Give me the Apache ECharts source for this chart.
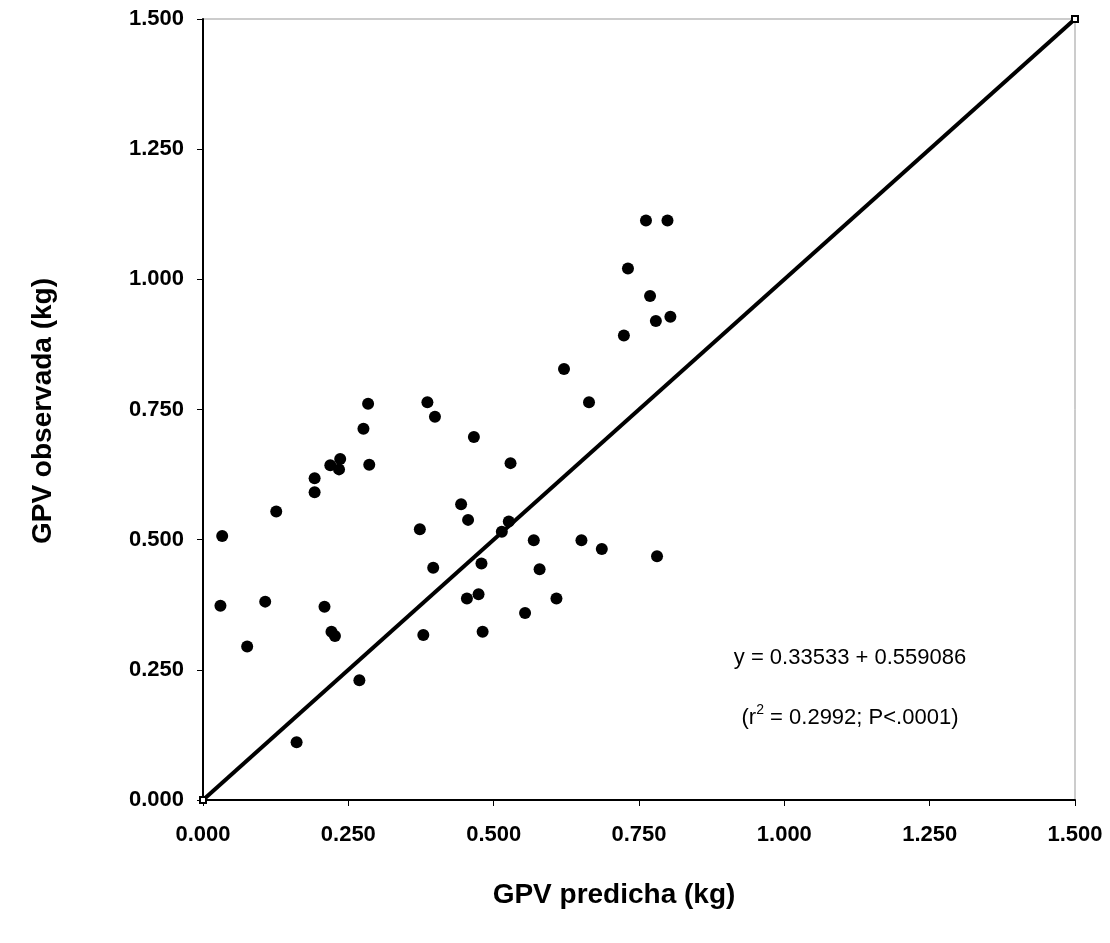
<!DOCTYPE html>
<html>
<head>
<meta charset="utf-8">
<script src="https://cdn.jsdelivr.net/npm/echarts@6/dist/echarts.min.js"></script>
<style>html,body{margin:0;padding:0;background:#fff;}#c{width:1110px;height:943px;}</style>
</head>
<body>
<div id="c"></div>
<script>
var predicted = [0.033,0.030,0.076,0.107,0.126,0.161,0.192,0.192,0.219,0.236,0.234,0.209,0.221,0.227,0.269,0.276,0.284,0.286,0.373,0.379,0.386,0.396,0.399,0.444,0.456,0.454,0.466,0.474,0.479,0.481,0.514,0.526,0.529,0.554,0.569,0.579,0.608,0.621,0.651,0.664,0.686,0.724,0.731,0.762,0.769,0.779,0.781,0.799,0.804];
var observed  = [0.507,0.373,0.295,0.381,0.554,0.111,0.618,0.591,0.643,0.655,0.635,0.371,0.323,0.315,0.230,0.713,0.761,0.644,0.520,0.317,0.764,0.446,0.736,0.568,0.538,0.387,0.697,0.395,0.454,0.323,0.515,0.535,0.647,0.359,0.499,0.443,0.387,0.828,0.499,0.764,0.482,0.892,1.021,1.113,0.968,0.920,0.468,1.113,0.928];
var identityLine = [[0, 0], [1.5, 1.5]];
var axisTicks = [0, 0.25, 0.5, 0.75, 1.0, 1.25, 1.5];
var xTitle = 'GPV predicha (kg)';
var yTitle = 'GPV observada (kg)';
var eqText = 'y = 0.33533 + 0.559086';

var pts = predicted.map(function (x, i) { return [x, observed[i]]; });
var font = 'Liberation Sans, Arial, sans-serif';
var chart = echarts.init(document.getElementById('c'), null, {renderer: 'canvas'});
function axisCommon() {
  return {
    type: 'value', min: 0, max: 1.5, interval: 0.25,
    splitLine: {show: false},
    axisLine: {show: true, onZero: false, lineStyle: {color: '#000', width: 2}},
    axisTick: {show: true, inside: false, length: 6, lineStyle: {color: '#000', width: 1}},
    axisLabel: {color: '#000', fontFamily: font, fontWeight: 'bold', fontSize: 22,
      formatter: function (v) { return v.toFixed(3); }}
  };
}
var xa = axisCommon(); xa.axisLabel.margin = 24;
var ya = axisCommon(); ya.axisLabel.margin = 19;
chart.setOption({
  animation: false,
  backgroundColor: '#fff',
  grid: {left: 203, right: 35, top: 19, bottom: 143, show: true, borderColor: '#999', borderWidth: 1, backgroundColor: 'transparent'},
  xAxis: xa,
  yAxis: ya,
  graphic: [
    {type: 'text', x: 614, y: 895, style: {text: xTitle, font: 'bold 28px ' + font, fill: '#000', textAlign: 'center', textVerticalAlign: 'middle'}},
    {type: 'text', x: 43, y: 411, rotation: Math.PI / 2, style: {text: yTitle, font: 'bold 28px ' + font, fill: '#000', textAlign: 'center', textVerticalAlign: 'middle'}},
    {type: 'text', x: 850, y: 658, style: {text: eqText, font: '22px ' + font, fill: '#000', textAlign: 'center', textVerticalAlign: 'middle'}},
    {type: 'text', x: 850, y: 716, style: {
      text: '{a|(r}{s|2}{a| = 0.2992; P<.0001)}',
      textAlign: 'center', textVerticalAlign: 'middle',
      rich: {
        a: {font: '22px ' + font, fill: '#000', color: '#000', verticalAlign: 'bottom', lineHeight: 26},
        s: {font: '14px ' + font, fill: '#000', color: '#000', verticalAlign: 'top', lineHeight: 26, padding: [0, 0, 10, 0]}
      }}}
  ],
  series: [
    {type: 'line', data: identityLine, symbol: 'emptyRect', symbolSize: 6, showSymbol: true,
      lineStyle: {color: '#000', width: 4}, itemStyle: {color: '#000', borderColor: '#000', borderWidth: 1}, z: 3},
    {type: 'scatter', data: pts, symbol: 'circle', symbolSize: 12, itemStyle: {color: '#000', opacity: 1}, z: 4}
  ]
});
</script>
</body>
</html>
